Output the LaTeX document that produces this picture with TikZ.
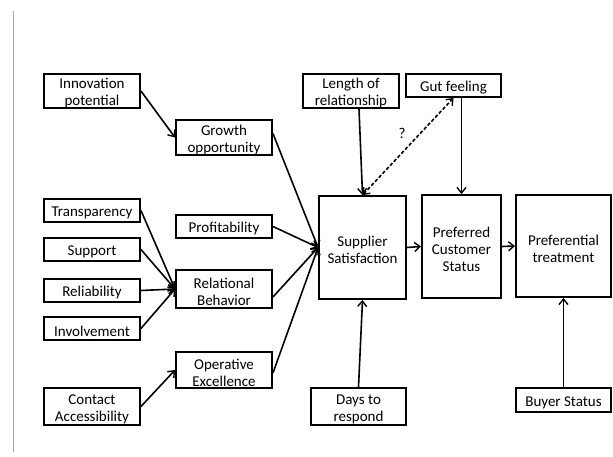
\documentclass[tikz,border=0pt]{standalone}
\usepackage{fontspec}
\setmainfont{Carlito}
\usetikzlibrary{arrows.meta}
\begin{document}
\begin{tikzpicture}[x=1pt,y=-1pt,
  >={Straight Barb[length=5.5pt,width=9pt,line width=1.4pt]},
  box/.style={draw,line width=1.9pt,inner sep=0pt},
  txt/.style={inner sep=0pt,align=center,font=\fontsize{15}{17}\selectfont},
  arr/.style={line width=1.6pt,->},
  darr/.style={line width=1.6pt,dash pattern=on 3.5pt off 2pt,<->}]
\useasboundingbox (0,0) rectangle (613,457);
% page margin rule
\draw[line width=1pt,color=black!35] (13,11) -- (13,452);

% box: name, centre x, centre y, width, height, text (set a little low in the box)
\newcommand{\bx}[6]{%
  \node[box,minimum width=#4,minimum height=#5] (#1) at (#2,#3) {};
  \node[txt] (#1-text) at (#2,#3+2.5) {#6};}
\bx{innov}{92}{91}{96}{34}{Innovation\\potential}
\bx{growth}{224}{137.5}{96}{35}{Growth\\opportunity}
\bx{transp}{92}{210.5}{96}{23}{Transparency}
\bx{profit}{224}{226.5}{96}{23}{Profitability}
\bx{support}{92}{249.5}{96}{23}{Support}
\bx{reliab}{92}{290.5}{96}{23}{Reliability}
\bx{involv}{92}{328.5}{96}{23}{Involvement}
\bx{relat}{224}{289}{96}{38}{Relational\\Behavior}
\bx{oper}{224}{370}{96}{36}{Operative\\Excellence}
\bx{contact}{92}{406.5}{96}{37}{Contact\\Accessibility}
\bx{length}{351}{91}{96}{34}{Length of\\relationship}
\bx{gut}{453.5}{85.5}{95}{23}{Gut feeling}
\bx{supp}{362.5}{247.5}{87}{103}{Supplier\\Satisfaction}
\bx{pcs}{461.5}{246.5}{79}{103}{Preferred\\Customer\\Status}
\bx{treat}{563.5}{246}{95}{102}{Preferential\\treatment}
\bx{days}{358.5}{406.5}{95}{37}{Days to\\respond}
\bx{buyer}{563.5}{400}{95}{24}{Buyer Status}

% connectors
\draw[arr] (innov.east) -- (growth.west);
\draw[arr] (transp.east) -- (relat.west);
\draw[arr] (support.east) -- (relat.west);
\draw[arr] (reliab.east) -- (relat.west);
\draw[arr] (involv.east) -- (relat.west);
\draw[arr] (contact.east) -- (oper.west);
\draw[arr] ([yshift=4]growth.east) -- (supp.west);
\draw[arr] (profit.east) -- (supp.west);
\draw[arr] ([yshift=-8]relat.east) -- (supp.west);
\draw[arr] ([yshift=-3]oper.east) -- (supp.west);
\draw[arr] ([xshift=8]length.south) -- (supp.north);
\draw[arr] ([xshift=8]gut.south) -- (pcs.north);
\draw[darr] (supp.north) -- (gut.south);
\node[txt] (q) at (402,133) {?};
\draw[arr] (supp.east) -- (pcs.west);
\draw[arr] (pcs.east) -- (treat.west);
\draw[arr] (days.north) -- (supp.south);
\draw[arr] (buyer.north) -- (treat.south);
\end{tikzpicture}
\end{document}
